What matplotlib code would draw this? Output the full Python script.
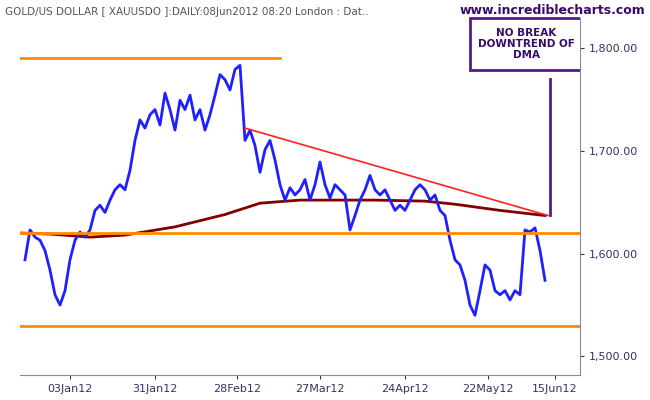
import matplotlib.pyplot as plt
from matplotlib.patches import Rectangle
import numpy as np

price = [1594, 1623, 1616, 1613, 1603, 1584, 1560, 1550, 1564, 1594, 1613, 1621, 1616, 1623,
         1642, 1647, 1640, 1652, 1662, 1667, 1662, 1681, 1710, 1730, 1722, 1735, 1740, 1725,
         1756, 1740, 1720, 1749, 1740, 1754, 1730, 1740, 1720, 1735, 1754, 1774, 1769, 1759,
         1779, 1783, 1710, 1720, 1705, 1679, 1701, 1710, 1691, 1667, 1652, 1664, 1657, 1662,
         1672, 1652, 1667, 1689, 1667, 1654, 1667, 1662, 1657, 1623, 1637, 1652, 1662, 1676,
         1662, 1657, 1662, 1652, 1642, 1647, 1642, 1652, 1662, 1667, 1662, 1652, 1657, 1642,
         1637, 1613, 1594, 1589, 1574, 1550, 1540, 1564, 1589, 1584, 1564, 1560, 1564, 1555,
         1564, 1560, 1623, 1621, 1625, 1603, 1574]
ma_idx = [-1, 5, 13, 20, 30, 40, 47, 55, 70, 80, 86, 95, 104]
ma_val = [1620, 1619, 1616, 1618, 1626, 1638, 1649, 1652, 1652, 1651, 1648, 1642, 1637]
tick_pos = [9, 26, 42.4, 59, 76, 92.6, 106]
tick_lbl = ['03Jan12', '31Jan12', '28Feb12', '27Mar12', '24Apr12', '22May12', '15Jun12']

fig = plt.figure(figsize=(6.5, 4), dpi=100)
ax = fig.add_axes([20/650, 25/400, 560/650, 357/400])
x = np.arange(len(price))
ax.plot(ma_idx, ma_val, color='#800000', lw=2)
ax.plot(x, price, color='#2020ff', lw=2)
ax.plot([44, 104.6], [1722, 1637], color='#ff2020', lw=1.2)
orange = '#ff8c00'
ax.plot([-1, 51], [1790, 1790], color=orange, lw=2)
ax.axhline(1620, color=orange, lw=2)
ax.axhline(1530, color=orange, lw=2)
ax.plot([105, 105], [1638, 1770], color='#5a1a8a', lw=2)

ax.set_xlim(-1, 111)
ax.set_ylim(1482, 1829)
ax.yaxis.tick_right()
ax.set_yticks([1500, 1600, 1700, 1800])
ax.set_yticklabels(['1,500.00', '1,600.00', '1,700.00', '1,800.00'])
ax.set_xticks(tick_pos)
ax.set_xticklabels(tick_lbl)
ax.tick_params(labelsize=8, colors='#333366', length=3)
for s in ['top', 'left']:
    ax.spines[s].set_visible(False)
for s in ['right', 'bottom']:
    ax.spines[s].set_color('#8888aa')

# annotation box, clipped at the right axis
clip = Rectangle((0, 0), 580/650, 1, transform=fig.transFigure)
box = Rectangle((470/650, 1 - 70/400), 130/650, 52/400, transform=fig.transFigure,
                fc='white', ec='#5a1a8a', lw=2, zorder=3)
fig.patches.append(box)
box.set_clip_path(clip)
t = fig.text(478/650, 1 - 44/400, 'NO BREAK\nDOWNTREND OF\nDMA', ha='left', va='center',
             fontsize=7.5, fontweight='bold', color='#3a0a6a', linespacing=1.1,
             multialignment='center', zorder=4)
t.set_clip_path(clip)

fig.text(5/650, 1 - 12/400, 'GOLD/US DOLLAR [ XAUUSDO ]:DAILY:08Jun2012 08:20 London : Dat..',
         fontsize=7.5, color='#555555', va='center')
fig.text(645/650, 1 - 10/400, 'www.incrediblecharts.com', fontsize=9, fontweight='bold',
         color='#3a0a6a', ha='right', va='center', zorder=5)
fig.savefig('out.png')
